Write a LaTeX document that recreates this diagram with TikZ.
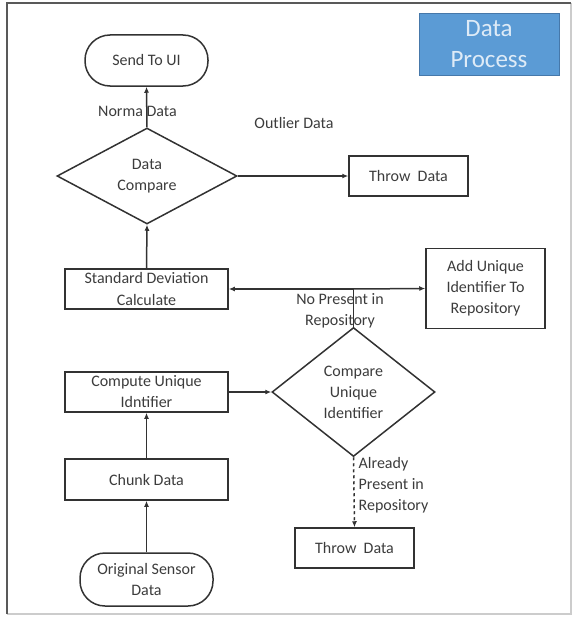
\documentclass[tikz,border=0pt]{standalone}
\usepackage{fontspec}
\setmainfont{Carlito}
\usetikzlibrary{shapes.geometric,arrows.meta}
\definecolor{ink}{RGB}{50,50,50}
\definecolor{txt}{RGB}{60,60,60}
\definecolor{tblue}{RGB}{91,155,213}
\definecolor{tborder}{RGB}{70,120,170}
\definecolor{ttext}{RGB}{222,235,247}
\tikzset{
  base/.style={draw=ink, line width=1.5pt, text=txt, align=center, inner sep=0pt,
    font=\fontsize{16}{21}\selectfont},
  procbox/.style={base, rectangle, minimum width=#1, minimum height=40pt},
  termbox/.style={base, rectangle, rounded corners=25pt},
  decbox/.style={base, diamond, aspect=1.6},
  conn/.style={draw=ink, line width=1.5pt, -{Latex[length=6pt,width=5pt]}},
  lbl/.style={text=txt, align=center, inner sep=0pt, font=\fontsize{16}{21}\selectfont},
}
\begin{document}
\begin{tikzpicture}[x=1pt,y=-1pt]
\useasboundingbox (0,0) rectangle (573,618);
% frame
\draw[draw=black!20, line width=1.2pt] (571,3) -- (571,614) -- (7,614);
\draw[draw=black!65, line width=1.5pt] (7,614) -- (7,3) -- (571,3);
% title
\node[rectangle, fill=tblue, draw=tborder, line width=0.8pt, minimum width=140pt, minimum height=62pt,
  text=ttext, align=center, inner sep=0pt, font=\fontsize{25}{31}\selectfont] (title) at (489,44) {Data\\Process};
% nodes
\node[termbox, minimum width=123pt, minimum height=51pt] (sendui) at (146.5,60.5) {Send To UI};
\node[decbox, minimum width=180pt, minimum height=96pt] (dcomp) at (147,176) {Data\\Compare};
\node[procbox=119pt] (throw1) at (408.5,176) {Throw\ \ Data};
\node[procbox=163pt] (stddev) at (146.5,289) {Standard Deviation\\Calculate};
\node[procbox=119pt, minimum height=80pt] (addid) at (485.5,288.5) {Add Unique\\Identifier To\\Repository};
\node[decbox, minimum width=163pt, minimum height=129pt] (cuid) at (353.5,392) {Compare\\Unique\\Identifier};
\node[procbox=163pt] (compute) at (146.5,392) {Compute Unique\\Idntifier};
\node[procbox=163pt, minimum height=41pt] (chunk) at (146.5,479.5) {Chunk Data};
\node[termbox, minimum width=133pt, minimum height=53pt] (orig) at (146.5,579.5) {Original Sensor\\Data};
\node[procbox=119pt] (throw2) at (354.5,548) {Throw\ \ Data};
\coordinate (junc) at (cuid.north |- stddev.east);
% labels
\node[lbl] (lnorm) at (137.5,111) {Norma\ Data};
\node[lbl] (lout) at (294,123) {Outlier Data};
\node[lbl] (lnop) at (340,311) {No Present in\\Repository};
\node[lbl, align=left, anchor=west] (lalr) at (358.5,485) {Already\\Present in\\Repository};
% connectors
\draw[conn] (dcomp.north) -- (sendui.south);
\draw[conn] (dcomp.east) -- (throw1.west);
\draw[conn] (stddev.north) -- (dcomp.south);
\draw[draw=ink, line width=1.5pt] (cuid.north) -- (junc);
\draw[conn] (junc) -- (stddev.east);
\draw[conn] (junc) -- (addid.west);
\draw[conn] (compute.east) -- (cuid.west);
\draw[conn] (chunk.north) -- (compute.south);
\draw[conn] (orig.north) -- (chunk.south);
\draw[conn, dashed] (cuid.south) -- (throw2.north);
\end{tikzpicture}
\end{document}
